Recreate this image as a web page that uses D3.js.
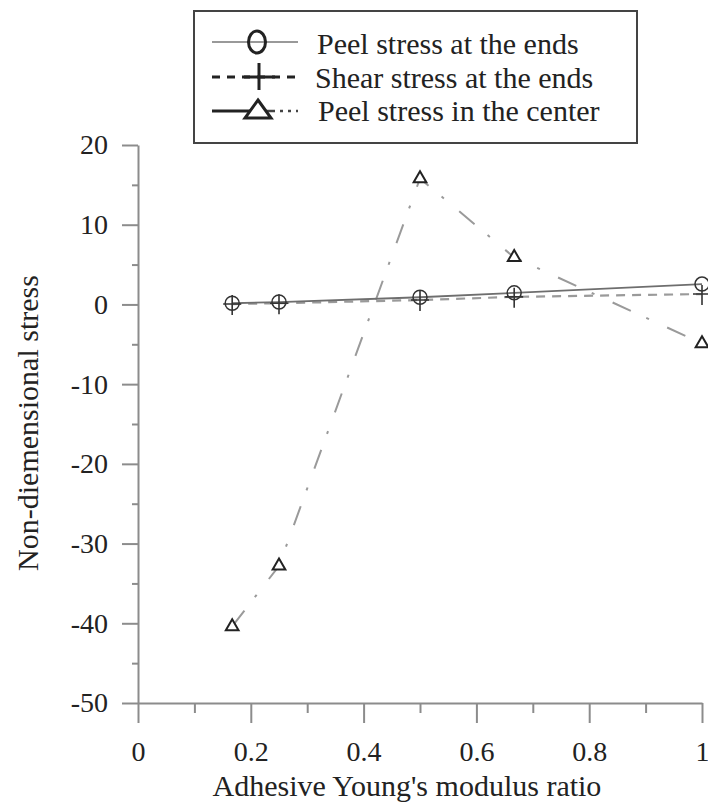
<!DOCTYPE html>
<html>
<head>
<meta charset="utf-8">
<script src="https://cdn.jsdelivr.net/npm/d3@7"></script>
<style>
  html, body { margin: 0; padding: 0; background: #fff; }
  svg { display: block; }
  text { font-family: "Liberation Serif", "Times New Roman", serif; fill: #222; }
</style>
</head>
<body>
<svg id="chart" width="708" height="807"></svg>
<script>
// Adhesive Young's modulus ratio (x) and non-dimensional stresses (y)
const ratios = [0.167, 0.25, 0.5, 0.667, 1];
const peelEnds = [0.15, 0.3, 0.9, 1.45, 2.55];
const shearEnds = [0.05, 0.15, 0.55, 0.95, 1.3];
const peelCenter = [-40.4, -32.8, 15.8, 5.9, -4.9];

const xMajorTicks = [0, 0.2, 0.4, 0.6, 0.8, 1];
const xMinorTicks = [0.1, 0.3, 0.5, 0.7, 0.9];
const yMajorTicks = [20, 10, 0, -10, -20, -30, -40, -50];
const yMinorTicks = [15, 5, -5, -15, -25, -35, -45];

const seriesNames = ["Peel stress at the ends", "Shear stress at the ends", "Peel stress in the center"];

const svg = d3.select("#chart");
const x = d3.scaleLinear().domain([0, 1]).range([138, 702]);
const y = d3.scaleLinear().domain([-50, 20]).range([703, 145]);

const axisColor = "#8c8c8c";
const fmtX = d => (d === 0 || d === 1) ? String(d) : d.toFixed(1);
const fmtY = d => String(d); // plain hyphen for negatives

// minor ticks first (no labels)
const gxMinor = svg.append("g").attr("transform", `translate(0,${y(-50)})`)
  .call(d3.axisBottom(x).tickValues(xMinorTicks).tickSize(10).tickFormat(""));
const gyMinor = svg.append("g").attr("transform", `translate(${x(0)},0)`)
  .call(d3.axisLeft(y).tickValues(yMinorTicks).tickSize(6).tickFormat(""));

const gx = svg.append("g").attr("transform", `translate(0,${y(-50)})`)
  .call(d3.axisBottom(x).tickValues(xMajorTicks).tickSize(20).tickSizeOuter(0)
    .tickPadding(18).tickFormat(fmtX));
const gy = svg.append("g").attr("transform", `translate(${x(0)},0)`)
  .call(d3.axisLeft(y).tickValues(yMajorTicks).tickSize(16).tickSizeOuter(0)
    .tickPadding(14).tickFormat(fmtY));

[gxMinor, gyMinor, gx, gy].forEach(g => {
  g.selectAll("path.domain").attr("stroke", axisColor).attr("stroke-width", 2);
  g.selectAll(".tick line").attr("stroke", axisColor).attr("stroke-width", 2);
  g.selectAll(".tick text").attr("font-size", 28)
    .attr("font-family", "'Liberation Serif', 'Times New Roman', serif").attr("fill", "#1a1a1a");
});
gxMinor.select("path.domain").remove();
gyMinor.select("path.domain").remove();

// axis titles
svg.append("text").attr("x", 407).attr("y", 796).attr("text-anchor", "middle")
  .attr("font-size", 30).text("Adhesive Young's modulus ratio");
svg.append("text").attr("transform", "translate(38,423) rotate(-90)")
  .attr("text-anchor", "middle").attr("font-size", 30).text("Non-diemensional stress");

// lines
const line = d3.line().x(d => x(d[0])).y(d => y(d[1]));
const pts = vals => ratios.map((r, i) => [r, vals[i]]);

svg.append("path").datum(pts(peelCenter)).attr("d", line)
  .attr("fill", "none").attr("stroke", "#9a9a9a").attr("stroke-width", 2)
  .attr("stroke-dasharray", "20,17,3,20");
svg.append("path").datum(pts(shearEnds)).attr("d", line)
  .attr("fill", "none").attr("stroke", "#9a9a9a").attr("stroke-width", 2.2)
  .attr("stroke-dasharray", "9,7");
svg.append("path").datum(pts(peelEnds)).attr("d", line)
  .attr("fill", "none").attr("stroke", "#6e6e6e").attr("stroke-width", 1.8);

// markers
svg.append("g").selectAll("path").data(pts(shearEnds)).join("path")
  .attr("d", d => {
    const cx = x(d[0]), cy = y(d[1]);
    return `M${cx - 9},${cy}H${cx + 9}M${cx},${cy - 9}V${cy + 11}`;
  })
  .attr("stroke", "#333").attr("stroke-width", 1.6).attr("fill", "none");
svg.append("g").selectAll("circle").data(pts(peelEnds)).join("circle")
  .attr("cx", d => x(d[0])).attr("cy", d => y(d[1])).attr("r", 7)
  .attr("fill", "none").attr("stroke", "#333").attr("stroke-width", 1.5);
const tri = d3.symbol().type(d3.symbolTriangle).size(70);
svg.append("g").selectAll("path").data(pts(peelCenter)).join("path")
  .attr("transform", d => `translate(${x(d[0])},${y(d[1])})`)
  .attr("d", tri).attr("fill", "#fff").attr("stroke", "#222").attr("stroke-width", 2);

// legend
const lg = svg.append("g");
lg.append("rect").attr("x", 194).attr("y", 11).attr("width", 443).attr("height", 132)
  .attr("fill", "#fff").attr("stroke", "#444").attr("stroke-width", 2);

const rowY = [42, 77, 111];
const baseY = [54, 88, 121];
// row 1: solid grey line with open "O"
lg.append("line").attr("x1", 212).attr("x2", 298).attr("y1", rowY[0]).attr("y2", rowY[0])
  .attr("stroke", "#999").attr("stroke-width", 2);
lg.append("ellipse").attr("cx", 257).attr("cy", rowY[0]).attr("rx", 8.5).attr("ry", 11)
  .attr("fill", "none").attr("stroke", "#222").attr("stroke-width", 3);
// row 2: dashed line with plus
lg.append("line").attr("x1", 212).attr("x2", 298).attr("y1", rowY[1]).attr("y2", rowY[1])
  .attr("stroke", "#222").attr("stroke-width", 3).attr("stroke-dasharray", "8,7");
lg.append("path").attr("d", `M244,${rowY[1]}H275M259,${rowY[1] - 14}V${rowY[1] + 13}`)
  .attr("stroke", "#222").attr("stroke-width", 3).attr("fill", "none");
// row 3: solid into triangle, then dash-dot tail
lg.append("line").attr("x1", 212).attr("x2", 250).attr("y1", rowY[2]).attr("y2", rowY[2])
  .attr("stroke", "#222").attr("stroke-width", 3);
lg.append("line").attr("x1", 266).attr("x2", 298).attr("y1", rowY[2]).attr("y2", rowY[2])
  .attr("stroke", "#444").attr("stroke-width", 2.5).attr("stroke-dasharray", "9,5,3,5,3,5");
lg.append("path").attr("d", "M258,100L271,118L245,118Z")
  .attr("fill", "none").attr("stroke", "#222").attr("stroke-width", 3);

lg.selectAll("text.lbl").data(seriesNames).join("text").attr("class", "lbl")
  .attr("x", (d, i) => [317, 315, 318][i]).attr("y", (d, i) => baseY[i])
  .attr("font-size", 30).text(d => d);
</script>
</body>
</html>
